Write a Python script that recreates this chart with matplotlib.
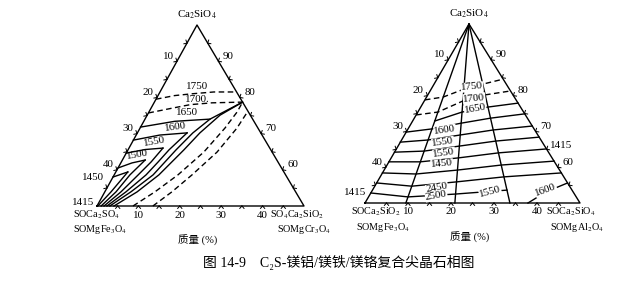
import numpy as np
import matplotlib
matplotlib.use("Agg")
import matplotlib.pyplot as plt

plt.rcParams['font.family'] = ['Liberation Serif', 'Noto Sans CJK SC', 'DejaVu Sans']
plt.rcParams['mathtext.fontset'] = 'stix'

# compositions as (R, A): R = % of the right-hand corner component, A = % Ca2SiO4
# each diagram only shows the Ca2SiO4-rich half (A from 50 to 100)

# ---------------- left diagram (MgFe2O4 / MgCr2O4) ----------------
L_dash_1750 = [(0, 79.5), (4, 80.5), (8, 81.0), (13, 81.5), (18.5, 81.5)]
L_dash_1700 = [(0, 75.7), (5, 77.0), (9, 78.0), (14, 78.5), (21.3, 78.7)]
L_iso_1650 = [(0, 71.8), (7.5, 73.4), (15.7, 74.0)]
L_iso_1600 = [(0, 68.2), (5.7, 69.6), (12.0, 70.2)]
L_iso_1550 = [(0, 64.6), (4.1, 65.6), (8.2, 66.0)]
L_iso_1500 = [(0, 60.5), (2.7, 61.9), (5.5, 62.7)]
L_iso_1450 = [(0, 58.0), (2.9, 59.4)]
L_fan_1 = [(0.2, 50), (1.5, 53.9), (2.9, 59.4)]
L_fan_2 = [(1.0, 50), (2.7, 53.9), (3.8, 58.6), (5.5, 62.7)]
L_fan_3 = [(1.7, 50), (3.9, 53.9), (5.8, 58.6), (7.2, 62.2), (8.2, 66.0)]
L_fan_4 = [(2.4, 50), (5.1, 53.9), (7.7, 58.6), (8.9, 62.2), (9.9, 65.5), (12.0, 70.2)]
L_fan_5 = [(3.1, 50), (6.3, 53.9), (9.4, 58.6), (11.6, 65.5), (13.4, 70.2), (15.7, 74.0), (21.3, 78.7)]
L_fan_6 = [(4.1, 50), (7.8, 53.9), (10.8, 58.6), (13.5, 65.5), (15.1, 70.2), (17.6, 75.1), (21.3, 78.7)]
L_dash_a = [(8.7, 50), (12.1, 53.9), (15.4, 58.6), (18.6, 64.9), (20.5, 71.5), (21.3, 76.0), (21.3, 78.7)]
L_dash_b = [(13.5, 50), (16.2, 53.9), (18.8, 58.6), (21.8, 64.9), (23.4, 71.5), (23.8, 76.2)]

L_labels = ['1750', '1700.', '1650', '1600', '1550', '1500', '1450', '1415']
L_label_R = [8.3, 10.0, 9.3, 8.5, 5.2, 2.9, -4.8, -3.9]
L_label_A = [82.9, 79.3, 75.7, 71.8, 67.7, 64.1, 58.0, 51.1]
L_label_rot = [0, 0, 0, 8, 10, 10, 0, 0]

# ---------------- right diagram (MgFe2O4 / MgAl2O4) ----------------
R_rays_base = [9.5, 20.9, 33.7]          # where the rays from the apex meet the base
# A at: left edge, ray 1, ray 2, ray 3, right edge
R_dash_1750 = [78.8, 79.6, 81.8, 83.2, 84.6]
R_dash_1700 = [74.6, 75.4, 78.5, 80.2, 81.3]
R_iso_1650 = [np.nan, 72.9, 75.4, 76.8, 77.9]
R_iso_1600 = [69.8, 70.7, 72.3, 73.7, 74.9]
R_iso_1550a = [67.0, 67.6, 69.0, 70.4, 71.5]
R_iso_1550b = [64.2, 64.5, 65.9, 67.3, 68.4]
R_iso_1450 = [61.5, 61.5, 62.6, 64.0, 65.1]
R_iso_1415 = [58.4, 58.1, 59.2, 60.6, 61.7]
R_iso_2450 = [55.6, 54.7, 55.9, 57.3, 58.4]
R_iso_2500 = [52.8, 51.7, 52.5, 53.6, np.nan]
R_curve_1600 = [(37.9, 50), (40.6, 53.1), (44.4, 55.6)]

R_labels = ['1750', '1700', '1650', '1600', '1550', '1550', '1450', '2450', '2500', '1550', '1600', '1415', '1415']
R_label_R = [9.2, 11.2, 12.9, 8.7, 9.9, 11.6, 12.6, 14.7, 15.6, 27.6, 40.3, -3.7, 37.8]
R_label_A = [82.4, 79.3, 76.3, 70.4, 67.0, 64.0, 60.9, 54.2, 52.0, 53.1, 53.6, 52.8, 66.2]
R_label_rot = [5, 5, 10, 8, 8, 8, 5, 10, 10, 15, 20, 0, 0]

side_left = [10, 20, 30, 40]
side_right = [90, 80, 70, 60]
base_ticks = [10, 20, 30, 40]

# triangle corners in pixels: bottom-left, bottom-right, apex
TRI_L = ((97, 206), (304, 206), (197, 25))
TRI_R = ((365, 203), (580, 203), (469, 24))

LW = 1.0
DASH = (0, (4, 2.5))
FS = 7.9
FS_C = 7.3


def tern(tri, R, A):
    (bx, by), (rx, ry), (tx, ty) = tri
    fr = np.asarray(R, dtype=float) / 50.0
    fa = (np.asarray(A, dtype=float) - 50.0) / 50.0
    return bx + fr * (rx - bx) + fa * (tx - bx), by + fr * (ry - by) + fa * (ty - by)


def curve(ax, tri, pts, **kw):
    R = [p[0] for p in pts]
    A = [p[1] for p in pts]
    x, y = tern(tri, R, A)
    ax.plot(x, y, color='k', lw=LW, solid_joinstyle='round', **kw)


def chevrons(ax, tri, R, A, u, s=3.2):
    x, y = tern(tri, R, A)
    u = np.array(u, dtype=float)
    u /= np.hypot(*u)
    n = np.array([u[1], -u[0]])
    for px, py in zip(x, y):
        for sg in (-1, 1):
            d = 0.75 * n + sg * 0.66 * u
            ax.plot([px, px + s * d[0]], [py, py + s * d[1]], color='k', lw=0.7)


def frame(ax, tri, top, bl1, bl2, br1, br2, pos):
    (bx, by), (rx, ry), (tx, ty) = tri
    ax.plot([bx, rx, tx, bx], [by, ry, ty, by], color='k', lw=LW)
    steps = np.arange(55, 100, 5)
    chevrons(ax, tri, np.arange(5, 50, 5), np.full(9, 50), (-(rx - bx), 0))
    chevrons(ax, tri, np.zeros(9), steps, (tx - bx, ty - by))
    chevrons(ax, tri, 100 - steps, steps, (rx - tx, ry - ty))
    for lab in side_left:
        x, y = tern(tri, 0, 100 - lab)
        ax.text(x - 9, y - 5, str(lab), ha='center', va='center', fontsize=FS)
    for lab in side_right:
        x, y = tern(tri, 100 - lab, lab)
        ax.text(x + 10, y - 5, str(lab), ha='center', va='center', fontsize=FS)
    for lab in base_ticks:
        x, y = tern(tri, lab, 50)
        ax.text(x, y + 9, str(lab), ha='center', va='center', fontsize=FS)
    ax.text(tx, ty - 10, top, ha='center', va='center', fontsize=FS)
    ax.text(pos[0], by + 9, bl1, ha=pos[1], va='center', fontsize=FS_C)
    ax.text(pos[2], by + 24, bl2, ha='left', va='center', fontsize=FS_C)
    ax.text(pos[3], by + 9, br1, ha='left', va='center', fontsize=FS_C)
    ax.text(pos[4], by + 24, br2, ha='right', va='center', fontsize=FS_C)
    ax.text((bx + rx) / 2 - 3, by + 34, '质量 (%)', ha='center', va='center', fontsize=7.6)


fig = plt.figure(figsize=(6.26, 2.82), dpi=100)
ax = fig.add_axes([0, 0, 1, 1])
ax.set_xlim(0, 626)
ax.set_ylim(282, 0)
ax.axis('off')

# left diagram
frame(ax, TRI_L, r'Ca$_2$SiO$_4$', r'SOCa$_2$SO$_4$', r'SOMgFe$_3$O$_4$',
      r'SO$_4$Ca$_2$SiO$_2$', r'SOMgCr$_3$O$_4$', (73, 'left', 73, 270, 331))
for c in [L_iso_1650, L_iso_1600, L_iso_1550, L_iso_1500, L_iso_1450,
          L_fan_1, L_fan_2, L_fan_3, L_fan_4, L_fan_5, L_fan_6]:
    curve(ax, TRI_L, c)
for c in [L_dash_1750, L_dash_1700, L_dash_a, L_dash_b]:
    curve(ax, TRI_L, c, ls=DASH)
for t, r, a, rot in zip(L_labels, L_label_R, L_label_A, L_label_rot):
    x, y = tern(TRI_L, r, a)
    ax.text(x, y, t, ha='center', va='center', fontsize=FS, rotation=rot)

# right diagram
frame(ax, TRI_R, r'Ca$_2$SiO$_4$', r'SOCa$_2$SiO$_2$', r'SOMgFe$_3$O$_4$',
      r'SOCa$_2$SiO$_4$', r'SOMgAl$_2$O$_4$', (401, 'right', 356, 546, 604))
for rb in R_rays_base:
    x, y = tern(TRI_R, [0, rb], [100, 50])
    ax.plot(x, y, color='k', lw=LW)
fr = np.array([0.0] + [rb / 50.0 for rb in R_rays_base] + [1.0])
for A, ls in [(R_dash_1750, DASH), (R_dash_1700, DASH), (R_iso_1650, '-'), (R_iso_1600, '-'),
              (R_iso_1550a, '-'), (R_iso_1550b, '-'), (R_iso_1450, '-'), (R_iso_1415, '-'),
              (R_iso_2450, '-'), (R_iso_2500, '-')]:
    A = np.array(A)
    x, y = tern(TRI_R, fr * (100 - A), A)
    ax.plot(x, y, color='k', lw=LW, ls=ls)
curve(ax, TRI_R, R_curve_1600)
for t, r, a, rot in zip(R_labels, R_label_R, R_label_A, R_label_rot):
    x, y = tern(TRI_R, r, a)
    ax.text(x, y, t, ha='center', va='center', fontsize=FS, rotation=rot,
            bbox=dict(facecolor='white', edgecolor='none', pad=0.2))

fig.text(339 / 626, 1 - 263 / 282, '图 14-9　C₂S-镁铝/镁铁/镁铬复合尖晶石相图',
         ha='center', va='center', fontsize=10)

fig.savefig('out.png', dpi=100)
